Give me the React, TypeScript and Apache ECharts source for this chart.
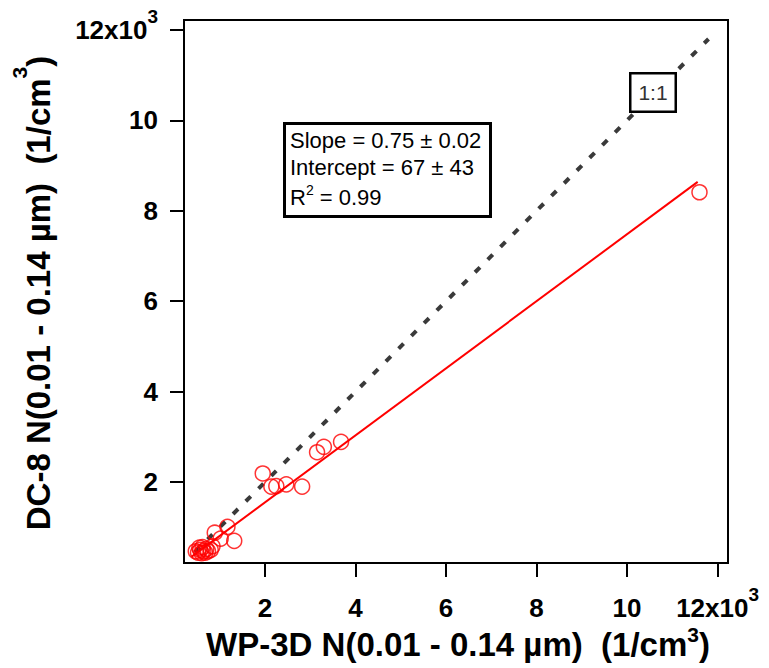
import React, { useEffect, useRef } from 'react';
import * as echarts from 'echarts';

// ---- data (values in 1/cm^3) ----
const tickValues = [2000, 4000, 6000, 8000, 10000, 12000];
const wp3d = [470, 520, 570, 600, 640, 680, 700, 740, 800, 840, 620, 550, 890, 1170, 1020, 1320, 1950, 2140, 2250, 2470, 2820, 3150, 3300, 3680, 11600];
const dc8 = [470, 440, 500, 430, 470, 440, 520, 470, 500, 580, 560, 550, 880, 1010, 750, 700, 2190, 1900, 1910, 1950, 1900, 2660, 2780, 2890, 8410];
const oneToOneX = [450, 11800];
const oneToOneY = [450, 11800];
const fitX = [380, 11560];
const fitY = [350, 8640];
const statsLines = ['Slope = 0.75 ± 0.02', 'Intercept = 67 ± 43'];
const r2Value = '0.99';
const oneToOneLabel = '1:1';
const xTitle = 'WP-3D N(0.01 - 0.14 µm)\u00a0\u00a0(1/cm';
const yTitle = 'DC-8 N(0.01 - 0.14 µm)\u00a0\u00a0(1/cm';

const FONT = "'Liberation Sans', Arial, Helvetica, sans-serif";

export default function App() {
  const ref = useRef<HTMLDivElement>(null);
  useEffect(() => {
    if (!ref.current) return;
    const chart = echarts.init(ref.current, null, { renderer: 'svg' });
    const labelRich = {
      n: { fontSize: 26, fontWeight: 'bold', fontFamily: FONT, color: '#000', lineHeight: 46, verticalAlign: 'middle' },
      s: { fontSize: 19, fontWeight: 'bold', fontFamily: FONT, color: '#000', padding: [0, 0, 27, 0], verticalAlign: 'middle' },
    };
    const fmt = (v: number) => (v === 12000 ? '{n|12x10}{s|3}' : `{n|${v / 1000}}`);
    const axisCommon = (margin: number) => ({
      type: 'value' as const,
      axisLine: { show: true, onZero: false, lineStyle: { color: '#000', width: 2 } },
      axisTick: { show: true, inside: false, length: 14, lineStyle: { color: '#000', width: 2 }, customValues: tickValues },
      axisLabel: { show: true, customValues: tickValues, margin, formatter: fmt, rich: labelRich },
      splitLine: { show: false },
    });
    const titleRich = (lh: number, pad: number) => ({
      n: { fontSize: 33, fontWeight: 'bold', fontFamily: FONT, fill: '#000', color: '#000', lineHeight: lh, verticalAlign: 'middle' },
      s: { fontSize: 21, fontWeight: 'bold', fontFamily: FONT, fill: '#000', color: '#000', padding: [0, 0, pad, 0], verticalAlign: 'middle' },
    });
    chart.setOption({
      animation: false,
      backgroundColor: '#fff',
      grid: { left: 184, right: 41, top: 20, bottom: 105, show: true, borderColor: '#000', borderWidth: 2, backgroundColor: 'transparent' },
      xAxis: { ...axisCommon(22), min: 210, max: 12230 },
      yAxis: { ...axisCommon(26), min: 210, max: 12220 },
      series: [
        {
          type: 'line',
          data: oneToOneX.map((x, i) => [x, oneToOneY[i]]),
          showSymbol: false,
          symbol: 'none',
          lineStyle: { color: '#3a3a3a', width: 4, type: [7, 11] },
          z: 2,
        },
        {
          type: 'line',
          data: fitX.map((x, i) => [x, fitY[i]]),
          showSymbol: false,
          symbol: 'none',
          lineStyle: { color: '#ff0000', width: 2 },
          z: 3,
        },
        {
          type: 'scatter',
          data: wp3d.map((x, i) => [x, dc8[i]]),
          symbol: 'circle',
          symbolSize: 15,
          itemStyle: { color: 'none', borderColor: '#ff0000', borderWidth: 1.5 },
          z: 4,
        },
      ],
      graphic: [
        { type: 'rect', z: 100, shape: { x: 284.5, y: 123.5, width: 206, height: 93 }, style: { fill: '#fff', stroke: '#000', lineWidth: 3 } },
        { type: 'text', z: 101, x: 290, y: 140, style: { text: statsLines[0], font: `22px ${FONT}`, fill: '#000', align: 'left', verticalAlign: 'middle' } },
        { type: 'text', z: 101, x: 290, y: 167, style: { text: statsLines[1], font: `22px ${FONT}`, fill: '#000', align: 'left', verticalAlign: 'middle' } },
        {
          type: 'text', z: 101, x: 290, y: 197,
          style: {
            text: `{a|R}{b|2}{a| = ${r2Value}}`,
            align: 'left', verticalAlign: 'middle',
            rich: {
              a: { fontSize: 22, fontFamily: FONT, fill: '#000', color: '#000', verticalAlign: 'middle' },
              b: { fontSize: 14, fontFamily: FONT, fill: '#000', color: '#000', padding: [0, 0, 14, 0], verticalAlign: 'middle' },
            },
          },
        },
        { type: 'rect', z: 100, shape: { x: 630.25, y: 73.25, width: 45.5, height: 38.5 }, style: { fill: '#fff', stroke: '#000', lineWidth: 2.5 } },
        { type: 'text', z: 101, x: 653, y: 92.5, style: { text: oneToOneLabel, font: `21px ${FONT}`, fill: '#333', align: 'center', verticalAlign: 'middle' } },
        {
          type: 'text', z: 101, x: 458, y: 644,
          style: { text: `{n|${xTitle}}{s|3}{n|)}`, align: 'center', verticalAlign: 'middle', rich: titleRich(46, 20) },
        },
        {
          type: 'text', z: 101, x: 38, y: 293, rotation: Math.PI / 2,
          style: { text: `{n|${yTitle}}{s|3}{n|)}`, align: 'center', verticalAlign: 'middle', rich: titleRich(60, 38) },
        },
      ],
    });
    return () => chart.dispose();
  }, []);
  return <div ref={ref} style={{ position: 'absolute', left: 0, top: 0, width: 769, height: 668 }} />;
}
